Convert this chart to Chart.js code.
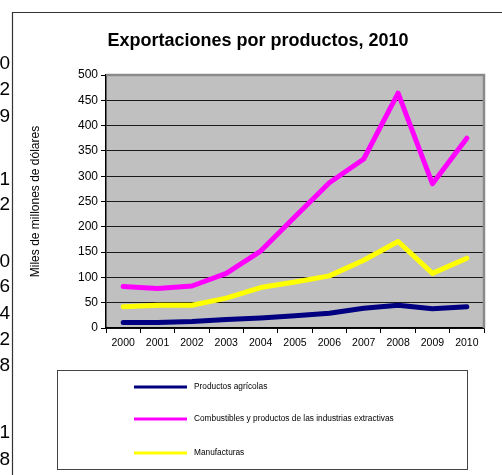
<!DOCTYPE html>
<html>
<head>
<meta charset="utf-8">
<script src="https://cdn.jsdelivr.net/npm/chart.js@4.4.0/dist/chart.umd.min.js"></script>
<style>
  html, body { margin: 0; padding: 0; background: #fff; }
  #caja { width: 502px; height: 475px; }
</style>
</head>
<body>
<div id="caja"><canvas id="grafico"></canvas></div>
<script>
// datos (miles de millones de dolares)
var anios = ['2000', '2001', '2002', '2003', '2004', '2005', '2006', '2007', '2008', '2009', '2010'];
var agricolas = [11, 11, 13, 17, 20, 24, 29, 39, 45, 38, 42];
var combustibles = [82, 78, 83, 108, 152, 220, 287, 334, 464, 285, 375];
var manufacturas = [42, 45, 45, 59, 80, 91, 103, 134, 171, 108, 138];
var nombres = ['Productos agrícolas', 'Combustibles y productos de las industrias extractivas', 'Manufacturas'];
var colores = ['#000080', '#FF00FF', '#FFFF00'];
var titulo = 'Exportaciones por productos, 2010';
var tituloEjeY = 'Miles de millones de dólares';
// restos de la hoja de calculo que asoman por la izquierda
var restosHoja = ['0', '2', '9', '1', '2', '0', '6', '4', '2', '8', '1', '8'];

var fuente = 'Arial, "Liberation Sans", sans-serif';

var dibujoExtra = {
    id: 'dibujoExtra',
    beforeDraw: function (chart) {
        var ctx = chart.ctx;
        var a = chart.chartArea;
        ctx.save();
        ctx.fillStyle = '#C0C0C0';
        ctx.fillRect(a.left, a.top, a.right - a.left, a.bottom - a.top);
        ctx.restore();
    },
    afterDatasetsDraw: function (chart) {
        var ctx = chart.ctx;
        var a = chart.chartArea;
        ctx.save();
        ctx.strokeStyle = '#8a8a8a';
        ctx.lineWidth = 2.5;
        ctx.beginPath();
        ctx.moveTo(a.left, a.top);
        ctx.lineTo(a.right, a.top);
        ctx.lineTo(a.right, a.bottom);
        ctx.stroke();
        ctx.restore();
    },
    afterDraw: function (chart) {
        var ctx = chart.ctx;
        ctx.save();

        // marco del grafico
        ctx.strokeStyle = '#333';
        ctx.lineWidth = 1.2;
        ctx.beginPath();
        ctx.moveTo(12.5, 475);
        ctx.lineTo(12.5, 12.5);
        ctx.lineTo(502, 12.5);
        ctx.stroke();

        // titulo
        ctx.fillStyle = '#000';
        ctx.font = 'bold 18px ' + fuente;
        ctx.textAlign = 'center';
        ctx.textBaseline = 'middle';
        ctx.fillText(titulo, 258, 41);

        // numeros cortados a la izquierda
        var filas = [64, 90, 117, 180, 205, 262, 287, 314, 340, 366, 433, 460];
        ctx.font = '19px ' + fuente;
        ctx.textAlign = 'right';
        for (var i = 0; i < restosHoja.length; i++) {
            ctx.fillText(restosHoja[i], 10, filas[i]);
        }

        // leyenda
        ctx.strokeStyle = '#444';
        ctx.lineWidth = 1;
        ctx.strokeRect(57.5, 370.5, 410, 99);
        var ys = [387, 419, 453];
        ctx.font = '8.3px ' + fuente;
        ctx.textAlign = 'left';
        chart.data.datasets.forEach(function (ds, k) {
            ctx.strokeStyle = ds.borderColor;
            ctx.lineWidth = 3;
            ctx.beginPath();
            ctx.moveTo(134, ys[k]);
            ctx.lineTo(187, ys[k]);
            ctx.stroke();
            ctx.fillStyle = '#000';
            ctx.fillText(ds.label, 194, ys[k]);
        });
        ctx.restore();
    }
};

var series = [agricolas, combustibles, manufacturas];
var datasets = [];
for (var s = 0; s < series.length; s++) {
    datasets.push({
        label: nombres[s],
        data: series[s],
        borderColor: colores[s],
        backgroundColor: colores[s],
        borderWidth: 5,
        pointRadius: 0,
        tension: 0,
        borderCapStyle: 'round',
        borderJoinStyle: 'round'
    });
}

var ctx = document.getElementById('grafico').getContext('2d');
var miGrafico = new Chart(ctx, {
    type: 'line',
    data: {
        labels: anios,
        datasets: datasets
    },
    options: {
        responsive: true,
        maintainAspectRatio: false,
        animation: false,
        layout: {
            padding: { left: 14, top: 75, right: 18, bottom: 122 }
        },
        plugins: {
            legend: { display: false },
            title: { display: false },
            tooltip: { enabled: false }
        },
        scales: {
            x: {
                offset: true,
                afterFit: function (scale) { scale.height = 25; },
                grid: {
                    offset: true,
                    drawOnChartArea: false,
                    tickLength: 5,
                    tickColor: '#000',
                    tickWidth: 1
                },
                border: { color: '#000', width: 1.5 },
                ticks: {
                    color: '#000',
                    padding: 4,
                    maxRotation: 0,
                    autoSkip: false,
                    font: { family: fuente, size: 10.5 }
                }
            },
            y: {
                min: 0,
                max: 500,
                afterFit: function (scale) { scale.width = 92; },
                grid: {
                    color: '#1a1a1a',
                    lineWidth: 1,
                    tickLength: 5,
                    tickColor: '#000'
                },
                border: { color: '#000', width: 1.5 },
                ticks: {
                    stepSize: 50,
                    color: '#000',
                    padding: 3,
                    font: { family: fuente, size: 12 }
                },
                title: {
                    display: true,
                    text: tituloEjeY,
                    color: '#000',
                    padding: { top: 14, bottom: 0 },
                    font: { family: fuente, size: 12 }
                }
            }
        }
    },
    plugins: [dibujoExtra]
});
</script>
</body>
</html>
